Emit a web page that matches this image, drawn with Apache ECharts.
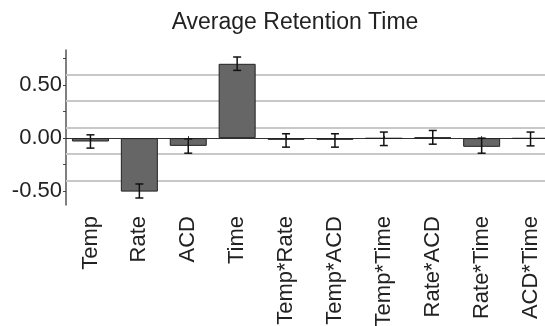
<!DOCTYPE html>
<html><head><meta charset="utf-8">
<script src="https://cdn.jsdelivr.net/npm/echarts@6/dist/echarts.min.js"></script>
<style>html,body{margin:0;padding:0;background:#fff}#c{width:545px;height:326px}</style>
</head><body><div id="c"></div>
<script>
var categories = ['Temp','Rate','ACD','Time','Temp*Rate','Temp*ACD','Temp*Time','Rate*ACD','Rate*Time','ACD*Time'];
var effects = [-0.032,-0.504,-0.073,0.70,-0.016,-0.016,-0.004,0.006,-0.082,-0.005];
var errLow  = [-0.094,-0.564,-0.142,0.638,-0.085,-0.085,-0.070,-0.057,-0.142,-0.073];
var errHigh = [0.031,-0.432,-0.007,0.764,0.041,0.041,0.057,0.072,0.000,0.057];
var refLines = [0.605,0.355,0.10,-0.148,-0.395];
var yTicks = [-0.5,-0.25,0,0.25,0.5,0.75];
var yLabels = [-0.5,0,0.5];

var font = "'Liberation Sans', Arial, sans-serif";
var chart = echarts.init(document.getElementById('c'));
var errData = categories.map(function(c,i){return [i, errLow[i], errHigh[i]];});
chart.setOption({
  animation:false,
  title:{text:'Average Retention Time', left:290, top:6, textAlign:'center',
    textStyle:{fontFamily:font,fontSize:23,fontWeight:'normal',color:'#222'}},
  grid:{left:66, right:-10, top:50, height:155, outerBoundsMode:'none', containLabel:false},
  xAxis:[{type:'category', data:categories, position:'bottom',
    axisLine:{show:false, onZero:false}, axisTick:{show:false},
    axisLabel:{rotate:90, fontFamily:font, fontSize:22, color:'#222', margin:11, interval:0}},
   {type:'category', data:categories, position:'bottom',
    axisLine:{show:true, onZero:true, lineStyle:{color:'#333',width:1}},
    axisTick:{show:true, alignWithLabel:true, length:2, inside:true, lineStyle:{color:'#333'}},
    axisLabel:{show:false}, z:3}],
  yAxis:{type:'value', min:-0.63, max:0.83,
    splitLine:{show:false},
    axisLine:{show:true, lineStyle:{color:'#555',width:1.5}},
    axisTick:{show:true, length:3, customValues:yTicks, lineStyle:{color:'#444'}},
    axisLabel:{customValues:yLabels, margin:4, fontFamily:font, fontSize:22, color:'#222',
      formatter:function(v){return v.toFixed(2);}}},
  series:[
    {type:'line', xAxisIndex:0, data:[], z:1, silent:true,
      markLine:{silent:true, symbol:'none', label:{show:false}, z:1,
        lineStyle:{color:'#c8c8c8', width:2, type:'solid'},
        data:refLines.map(function(v){return {yAxis:v};})}},
    {type:'bar', xAxisIndex:0, data:effects, barWidth:37, z:5,
      itemStyle:{color:'#666666', borderColor:'#222', borderWidth:1}},
    {type:'custom', xAxisIndex:0, data:errData, z:10,
      renderItem:function(params, api){
        var x = api.coord([api.value(0), api.value(1)]);
        var y2 = api.coord([api.value(0), api.value(2)]);
        var hw = 4;
        var st = {stroke:'#111', lineWidth:1.5};
        return {type:'group', children:[
          {type:'line', shape:{x1:x[0],y1:x[1],x2:y2[0],y2:y2[1]}, style:st},
          {type:'line', shape:{x1:x[0]-hw,y1:x[1],x2:x[0]+hw,y2:x[1]}, style:st},
          {type:'line', shape:{x1:y2[0]-hw,y1:y2[1],x2:y2[0]+hw,y2:y2[1]}, style:st}
        ]};
      }}
  ]
});
</script></body></html>
